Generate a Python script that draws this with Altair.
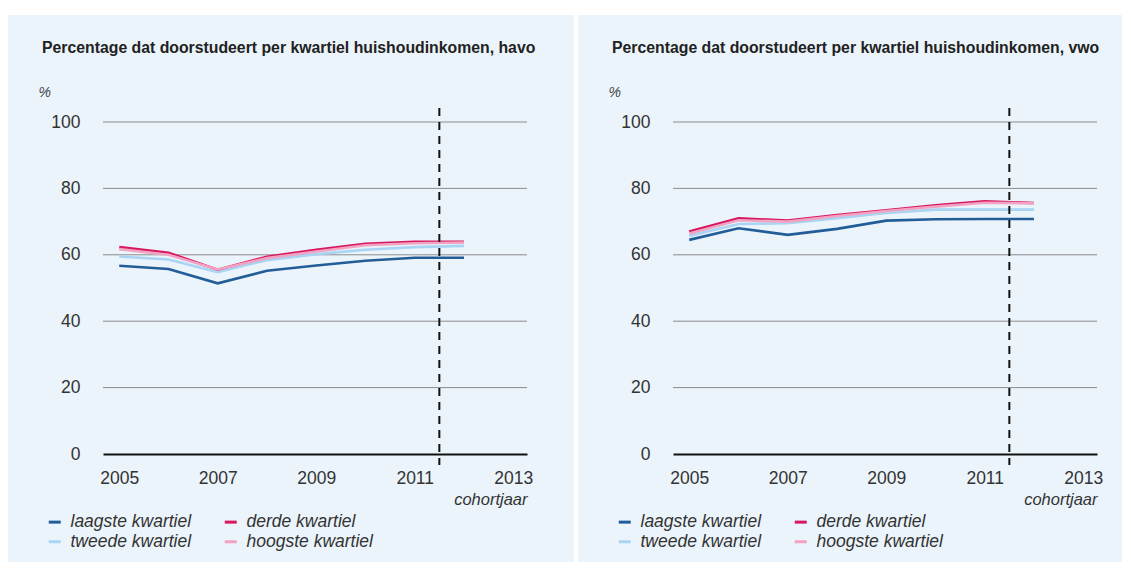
import altair as alt
import pandas as pd

# ---- data ----
years = [2005, 2006, 2007, 2008, 2009, 2010, 2011, 2012]
quartiles = ["laagste kwartiel", "tweede kwartiel", "derde kwartiel", "hoogste kwartiel"]
colors = ["#235d98", "#a9d4f3", "#d7175f", "#f3a3c2"]

havo_laagste = [56.7, 55.7, 51.4, 55.2, 56.8, 58.2, 59.1, 59.1]
havo_tweede = [59.5, 58.6, 54.8, 58.4, 60.2, 61.5, 62.3, 62.7]
havo_derde = [62.3, 60.6, 55.5, 59.4, 61.5, 63.3, 63.9, 63.9]
havo_hoogste = [61.7, 60.0, 55.6, 59.0, 61.0, 62.9, 63.5, 63.7]

vwo_laagste = [64.5, 68.0, 66.0, 67.8, 70.3, 70.7, 70.8, 70.8]
vwo_tweede = [65.7, 69.3, 69.5, 71.0, 72.6, 73.6, 73.6, 73.6]
vwo_derde = [67.0, 71.0, 70.3, 72.0, 73.4, 74.9, 76.1, 75.6]
vwo_hoogste = [66.4, 70.4, 70.0, 71.7, 73.2, 74.5, 75.7, 75.5]

y_ticks = [0, 20, 40, 60, 80, 100]
grid_values = [20, 40, 60, 80, 100]
x_labels = [2005, 2007, 2009, 2011, 2013]
cutoff_year = [2011.5]

titles = [
    "Percentage dat doorstudeert per kwartiel huishoudinkomen, havo",
    "Percentage dat doorstudeert per kwartiel huishoudinkomen, vwo",
]

BG = "#ebf4fb"
FONT = "Liberation Sans"
W, H = 424, 332


def panel(title, series, right_pad):
    rows = []
    for q, vals in zip(quartiles, series):
        for yr, v in zip(years, vals):
            rows.append({"jaar": yr, "pct": v, "kwartiel": q})
    df = pd.DataFrame(rows)

    xscale = alt.Scale(domain=[2004.67, 2013.28], nice=False, zero=False)
    yscale = alt.Scale(domain=[0, 100], nice=False)

    bg = alt.Chart(pd.DataFrame({"a": [0]})).mark_rect(color=BG, clip=False).encode(
        x=alt.value(-95), x2=alt.value(W + right_pad),
        y=alt.value(-107), y2=alt.value(H + 108),
    )

    grid = alt.Chart(pd.DataFrame({"g": grid_values})).mark_rule(
        color="#8c8c8c", strokeWidth=1
    ).encode(y=alt.Y("g:Q", scale=yscale))

    lines = alt.Chart(df).mark_line(strokeWidth=2.6).encode(
        x=alt.X(
            "jaar:Q", scale=xscale,
            axis=alt.Axis(
                values=x_labels, format="d", grid=False, ticks=False,
                domain=True, domainColor="#111111", domainWidth=2,
                labelFontSize=17.5, labelColor="#333333", labelPadding=15,
                labelFlush=False, labelFont=FONT,
                title="cohortjaar", titleFontStyle="italic", titleFontWeight="normal",
                titleFontSize=16.5, titleColor="#333333", titleAnchor="end",
                titlePadding=5, titleFont=FONT, zindex=1,
            ),
        ),
        y=alt.Y(
            "pct:Q", scale=yscale,
            axis=alt.Axis(
                values=y_ticks, grid=False, ticks=False, domain=False,
                labelFontSize=17.5, labelColor="#333333", labelPadding=23,
                labelFont=FONT,
                title="%", titleAngle=0, titleX=-65, titleY=-30,
                titleAlign="left", titleBaseline="middle", titleFontSize=14,
                titleFontWeight="normal", titleFontStyle="italic",
                titleColor="#444444", titleFont=FONT, zindex=1,
            ),
        ),
        color=alt.Color(
            "kwartiel:N",
            scale=alt.Scale(domain=quartiles, range=colors),
            legend=alt.Legend(
                title=None, orient="none", legendX=-57, legendY=391,
                columns=2, symbolType="stroke", symbolStrokeWidth=3,
                symbolSize=144, labelFontSize=17.5, labelFontStyle="italic",
                labelColor="#333333", labelFont=FONT, labelOffset=7,
                columnPadding=26, rowPadding=1, padding=0,
            ),
        ),
        detail="kwartiel:N",
    )

    cut = alt.Chart(pd.DataFrame({"jaar": cutoff_year})).mark_rule(
        color="#111111", strokeDash=[8, 6], strokeWidth=2
    ).encode(x=alt.X("jaar:Q", scale=xscale), y=alt.value(-14), y2=alt.value(H + 11))

    return alt.layer(bg, grid, lines, cut).properties(
        width=W, height=H,
        title=alt.TitleParams(
            title, anchor="start", frame="group", fontSize=15.8, fontWeight="bold",
            font=FONT, color="#222222", dx=-61, offset=0, dy=42,
        ),
    )


left = panel(titles[0], [havo_laagste, havo_tweede, havo_derde, havo_hoogste], 47)
right = panel(titles[1], [vwo_laagste, vwo_tweede, vwo_derde, vwo_hoogste], 25)

chart = alt.hconcat(left, right, spacing=4).resolve_scale(color="independent").configure(
    background="white",
    padding={"top": 7, "left": 0, "right": 0, "bottom": 0},
).configure_view(stroke=None)

chart.save("out.html", embed_options={"renderer": "svg", "actions": False})
